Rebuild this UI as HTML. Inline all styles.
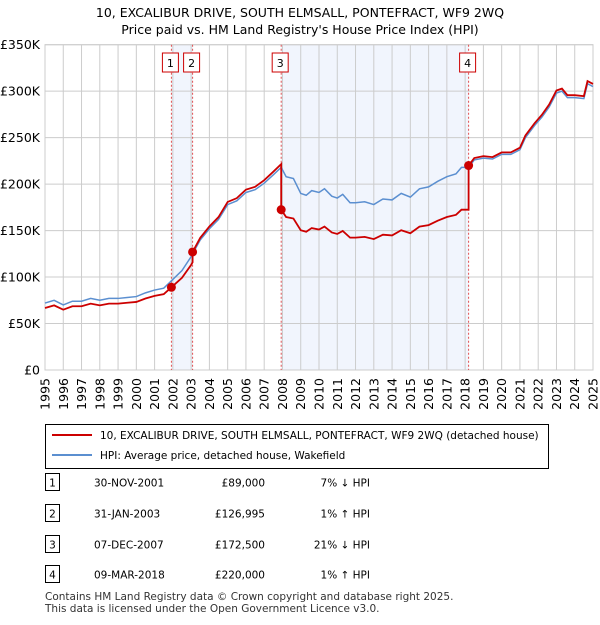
<!DOCTYPE html>
<html><head><meta charset="utf-8"><style>
body{margin:0;background:#fff;font-family:"Liberation Sans","DejaVu Sans",sans-serif;}
svg text{font-family:"DejaVu Sans","Liberation Sans",sans-serif;}
</style></head><body>
<svg id="c" width="600" height="620" xmlns="http://www.w3.org/2000/svg">
<text x="300" y="17" text-anchor="middle" font-size="12.5" fill="#000">10, EXCALIBUR DRIVE, SOUTH ELMSALL, PONTEFRACT, WF9 2WQ</text>
<text x="300" y="34" text-anchor="middle" font-size="12.5" fill="#000">Price paid vs. HM Land Registry's House Price Index (HPI)</text>
<g id="plot"></g>
<g>
<rect x="45.5" y="424.5" width="503" height="44" fill="#fff" stroke="#000"/>
<line x1="52" y1="435" x2="92" y2="435" stroke="#cc0000" stroke-width="2"/>
<text x="100" y="439" font-size="10.5">10, EXCALIBUR DRIVE, SOUTH ELMSALL, PONTEFRACT, WF9 2WQ (detached house)</text>
<line x1="52" y1="455" x2="92" y2="455" stroke="#5b8fd0" stroke-width="2"/>
<text x="100" y="459" font-size="10.5">HPI: Average price, detached house, Wakefield</text>
</g>
<g id="tbl" font-size="10.5"></g>
<text x="45" y="600" font-size="10.5" fill="#333">Contains HM Land Registry data © Crown copyright and database right 2025.</text>
<text x="45" y="612" font-size="10.5" fill="#333">This data is licensed under the Open Government Licence v3.0.</text>
</svg>
<script>
const hpiT=[1995,1995.5,1996,1996.5,1997,1997.5,1998,1998.5,1999,1999.5,2000,2000.5,2001,2001.5,2001.92,2002.5,2003,2003.08,2003.5,2004,2004.5,2005,2005.5,2006,2006.5,2007,2007.5,2007.93,2008.2,2008.6,2009,2009.3,2009.6,2010,2010.3,2010.7,2011,2011.3,2011.7,2012,2012.5,2013,2013.5,2014,2014.5,2015,2015.5,2016,2016.5,2017,2017.5,2017.8,2018.19,2018.5,2019,2019.5,2020,2020.5,2021,2021.3,2021.8,2022.2,2022.6,2023,2023.3,2023.6,2024,2024.5,2024.7,2025];
const hpiV=[72,75,70,74,74,77,75,77,77,78,79,83,86,88,96,107,122,125,140,152,162,178,182,191,194,201,210,218,208,206,190,188,193,191,195,187,185,189,180,180,181,178,184,183,190,186,195,197,203,208,211,218,218,226,228,227,232,232,237,250,263,272,283,298,300,293,293,292,308,305];
const saleT=[2001.92,2003.08,2007.93,2018.19];
const saleV=[89,126.995,172.5,220];
const saleDate=["30-NOV-2001","31-JAN-2003","07-DEC-2007","09-MAR-2018"];
const salePrice=["£89,000","£126,995","£172,500","£220,000"];
const saleDiff=["7% ↓ HPI","1% ↑ HPI","21% ↓ HPI","1% ↑ HPI"];
const yTicks=[0,50,100,150,200,250,300,350];
const yLabels=["£0","£50K","£100K","£150K","£200K","£250K","£300K","£350K"];
const xTicks=[1995,1996,1997,1998,1999,2000,2001,2002,2003,2004,2005,2006,2007,2008,2009,2010,2011,2012,2013,2014,2015,2016,2017,2018,2019,2020,2021,2022,2023,2024,2025];

const L=45,R=593,T=44.7,B=370;
const X=t=>L+(t-1995)/30*(R-L);
const Y=v=>B-v/350*(B-T);
const NS="http://www.w3.org/2000/svg";
const g=document.getElementById('plot');
function mk(tag,at,par){const e=document.createElementNS(NS,tag);for(const k in at)e.setAttribute(k,at[k]);(par||g).appendChild(e);return e;}
function hpiAt(t){for(let i=1;i<hpiT.length;i++){if(t<=hpiT[i]){const f=(t-hpiT[i-1])/(hpiT[i]-hpiT[i-1]);return hpiV[i-1]+f*(hpiV[i]-hpiV[i-1]);}}return hpiV[hpiV.length-1];}
[[0,1],[2,3]].forEach(p=>{
 const r=mk('rect',{x:X(saleT[p[0]]),y:T,width:X(saleT[p[1]])-X(saleT[p[0]]),height:B-T,fill:'#eef3fd',opacity:0.8});
 
 
});
xTicks.forEach((t,i)=>{
 const l=mk('line',{x1:X(t),x2:X(t),y1:T,y2:B,stroke:'#ccc','stroke-width':1});
 
 
 const tx=mk('text',{x:0,y:0,'font-size':12.5,'text-anchor':'end',transform:`translate(${X(t)+4.5},${B+8}) rotate(-90)`});
 tx.textContent=t;
 
 
});
yTicks.forEach((v,i)=>{
 const l=mk('line',{x1:L,x2:R,y1:Y(v),y2:Y(v),stroke:'#ccc','stroke-width':1});
 
 
 const tx=mk('text',{x:L-5,y:Y(v)+4.5,'font-size':12.5,'text-anchor':'end'});
 tx.textContent=yLabels[i];
 
 
});
const fr=mk('rect',{x:L,y:T,width:R-L,height:B-T,fill:'none',stroke:'#ccc'});


saleT.forEach((t,i)=>{
 const l=mk('line',{x1:X(t),x2:X(t),y1:T,y2:B,stroke:'#e05050','stroke-width':1,'stroke-dasharray':'2,2'});
 
 
 const r=mk('rect',{x:X(t)-9,y:53,width:16,height:19,fill:'#fff',stroke:'#cc0000'});
 
 
 const tx=mk('text',{x:X(t)-1,y:67,'font-size':11,'text-anchor':'middle'});
 tx.textContent=i+1;
 
 
});
const hp=mk('polyline',{points:hpiT.map((t,i)=>X(t)+','+Y(hpiV[i])).join(' '),fill:'none',stroke:'#5b8fd0','stroke-width':1.5});


const fac=saleT.map((t,i)=>saleV[i]/hpiAt(t));
let pts=[];
function segFactor(t){let k=0;for(let i=0;i<saleT.length;i++)if(t>=saleT[i])k=i;return fac[k];}
hpiT.forEach((t,i)=>{
 saleT.forEach((s,k)=>{if(k>0&&i>0&&s>hpiT[i-1]&&s<=t){pts.push([s,hpiAt(s)*fac[k-1]]);pts.push([s,saleV[k]]);}});
 pts.push([t,hpiV[i]*segFactor(t)]);
});
const pl=mk('polyline',{points:pts.map(p=>X(p[0])+','+Y(p[1])).join(' '),fill:'none',stroke:'#cc0000','stroke-width':1.8});


saleT.forEach((t,i)=>{
 const c=mk('circle',{cx:X(t),cy:Y(saleV[i]),r:4.5,fill:'#cc0000'});
 
 
});
const tb=document.getElementById('tbl');
const rowY=[483,514,545,575];
saleT.forEach((t,i)=>{
 const y=rowY[i];
 const r=mk('rect',{x:45.5,y:y-9.5,width:14,height:17,fill:'#fff',stroke:'#000'},tb);
 
 
 const a=mk('text',{x:52.5,y:y+3.5,'text-anchor':'middle'},tb);a.textContent=i+1;
 
 
 const d=mk('text',{x:94,y:y+3.5},tb);d.textContent=saleDate[i];
 
 
 const p=mk('text',{x:265,y:y+3.5,'text-anchor':'end'},tb);p.textContent=salePrice[i];
 
 
 const h=mk('text',{x:370,y:y+3.5,'text-anchor':'end'},tb);h.textContent=saleDiff[i];
 
 
});
</script>
</body></html>
